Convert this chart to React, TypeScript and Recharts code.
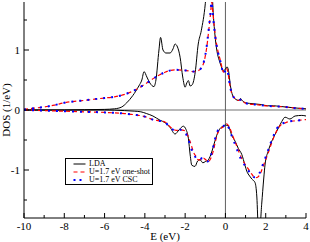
import React from 'react';
import { LineChart, Line, XAxis, YAxis, ReferenceLine, Legend, Label } from 'recharts';

// energy ticks (eV) and DOS ticks (1/eV)
const eTicks = [-10, -9, -8, -7, -6, -5, -4, -3, -2, -1, 0, 1, 2, 3, 4];
const eLabels = [-10, -8, -6, -4, -2, 0, 2, 4];
const dosTicks = [-1.5, -1, -0.5, 0, 0.5, 1, 1.5];
const dosLabels = [-1, 0, 1];

// LDA, spin up
const ldaUpE = [-10, -9, -8, -7, -6, -5.5, -5.15, -4.9, -4.6, -4.3, -4.15, -4.04, -3.9, -3.75, -3.55, -3.45, -3.3, -3.22, -3.1, -2.95, -2.75, -2.6, -2.5, -2.38, -2.25, -2.12, -2.0, -1.92, -1.84, -1.75, -1.65, -1.5, -1.35, -1.2, -1.0, -0.85, -0.72, -0.62, -0.52, -0.42, -0.3, -0.2, -0.1, 0.0, 0.08, 0.15, 0.25, 0.35, 0.5, 0.65, 0.75, 0.85, 1.0, 1.2, 1.5, 1.8, 2.1, 2.4, 2.7, 3.0, 3.3, 3.6, 4.0];
const ldaUpDos = [0.0, 0.0, 0.0, 0.005, 0.01, 0.02, 0.05, 0.12, 0.24, 0.4, 0.5, 0.64, 0.55, 0.45, 0.39, 0.5, 1.0, 1.21, 1.0, 0.95, 0.95, 1.02, 1.1, 1.05, 0.88, 0.55, 0.38, 0.45, 0.49, 0.4, 0.42, 0.63, 1.1, 1.32, 1.77, 2.4, 2.5, 1.7, 1.25, 0.98, 0.82, 0.72, 0.66, 0.68, 0.72, 0.66, 0.4, 0.25, 0.18, 0.16, 0.19, 0.15, 0.12, 0.11, 0.1, 0.09, 0.07, 0.07, 0.06, 0.05, 0.04, 0.03, 0.02];

// LDA, spin down
const ldaDnE = [-10, -8, -6, -5, -4.5, -4.2, -3.91, -3.6, -3.25, -3.0, -2.75, -2.5, -2.3, -2.09, -1.95, -1.84, -1.75, -1.67, -1.51, -1.38, -1.26, -1.12, -1.0, -0.85, -0.68, -0.55, -0.43, -0.27, -0.12, 0.0, 0.15, 0.31, 0.48, 0.64, 0.81, 0.97, 1.06, 1.2, 1.31, 1.47, 1.56, 1.63, 1.7, 1.8, 1.9, 1.97, 2.13, 2.3, 2.46, 2.63, 2.8, 2.96, 3.2, 3.46, 3.79, 4.0];
const ldaDnDos = [0, 0, 0, -0.01, -0.02, -0.03, -0.06, -0.1, -0.17, -0.21, -0.29, -0.4, -0.33, -0.27, -0.33, -0.47, -0.75, -0.92, -0.94, -0.85, -0.83, -0.88, -0.86, -0.83, -0.7, -0.55, -0.42, -0.31, -0.27, -0.25, -0.27, -0.42, -0.52, -0.64, -0.74, -0.92, -1.02, -1.1, -1.15, -1.21, -1.45, -1.95, -2.0, -1.57, -1.15, -0.9, -0.68, -0.52, -0.41, -0.3, -0.19, -0.12, -0.15, -0.1, -0.09, -0.1];

// U=1.7 eV one-shot, spin up
const osUpE = [-10, -9.5, -9, -8.5, -8, -7.5, -7, -6.5, -6, -5.5, -5, -4.5, -4, -3.5, -3, -2.5, -2, -1.6, -1.4, -1.2, -1.05, -0.93, -0.82, -0.74, -0.68, -0.62, -0.55, -0.45, -0.35, -0.27, -0.18, -0.1, -0.03, 0.05, 0.12, 0.18, 0.25, 0.33, 0.45, 0.6, 0.75, 0.82, 0.95, 1.2, 1.5, 2.0, 2.5, 3.0, 3.5, 4.0];
const osUpDos = [0.01, 0.03, 0.05, 0.08, 0.12, 0.145, 0.16, 0.18, 0.2, 0.22, 0.26, 0.33, 0.43, 0.54, 0.63, 0.67, 0.66, 0.64, 0.65, 0.7, 0.82, 1.04, 1.35, 1.6, 1.8, 1.6, 1.38, 1.12, 0.95, 0.85, 0.72, 0.63, 0.66, 0.69, 0.64, 0.5, 0.36, 0.26, 0.2, 0.16, 0.17, 0.17, 0.12, 0.1, 0.09, 0.07, 0.06, 0.05, 0.03, 0.02];

// U=1.7 eV one-shot, spin down
const osDnE = [-10, -9, -8, -7, -6, -5, -4.5, -4, -3.6, -3.3, -3, -2.75, -2.42, -2.2, -2.0, -1.84, -1.7, -1.59, -1.45, -1.35, -1.2, -1.1, -0.98, -0.85, -0.72, -0.6, -0.48, -0.35, -0.2, -0.1, 0.0, 0.06, 0.15, 0.23, 0.35, 0.48, 0.65, 0.81, 0.97, 1.15, 1.31, 1.47, 1.6, 1.72, 1.85, 1.97, 2.1, 2.21, 2.35, 2.46, 2.6, 2.75, 3.0, 3.2, 3.5, 3.7, 4.0];
const osDnDos = [0, -0.01, -0.02, -0.03, -0.04, -0.06, -0.08, -0.11, -0.16, -0.18, -0.2, -0.28, -0.34, -0.33, -0.35, -0.45, -0.58, -0.7, -0.78, -0.83, -0.82, -0.8, -0.83, -0.86, -0.8, -0.68, -0.5, -0.36, -0.3, -0.28, -0.25, -0.23, -0.26, -0.31, -0.42, -0.53, -0.68, -0.81, -0.9, -0.99, -1.07, -1.13, -1.12, -1.07, -0.96, -0.85, -0.74, -0.63, -0.5, -0.41, -0.31, -0.25, -0.21, -0.19, -0.18, -0.17, -0.16];

// U=1.7 eV CSC, spin up
const cscUpE = [-10, -9.5, -9, -8.5, -8, -7.5, -7, -6.5, -6, -5.5, -5, -4.5, -4, -3.5, -3, -2.5, -2, -1.6, -1.4, -1.2, -1.06, -0.94, -0.83, -0.75, -0.69, -0.63, -0.56, -0.46, -0.36, -0.28, -0.19, -0.1, -0.03, 0.05, 0.12, 0.18, 0.25, 0.33, 0.45, 0.6, 0.75, 0.82, 0.95, 1.2, 1.5, 2.0, 2.5, 3.0, 3.5, 4.0];
const cscUpDos = [0.01, 0.03, 0.05, 0.08, 0.12, 0.145, 0.16, 0.18, 0.2, 0.22, 0.26, 0.33, 0.43, 0.54, 0.63, 0.67, 0.66, 0.64, 0.65, 0.7, 0.82, 1.04, 1.35, 1.6, 1.8, 1.6, 1.38, 1.12, 0.95, 0.85, 0.72, 0.6, 0.64, 0.68, 0.63, 0.5, 0.36, 0.26, 0.2, 0.16, 0.17, 0.17, 0.12, 0.1, 0.09, 0.07, 0.06, 0.05, 0.03, 0.02];

// U=1.7 eV CSC, spin down
const cscDnE = [-10, -9, -8, -7, -6, -5, -4.5, -4, -3.6, -3.3, -3, -2.8, -2.47, -2.25, -2.05, -1.89, -1.75, -1.64, -1.5, -1.4, -1.25, -1.14, -1.02, -0.9, -0.77, -0.65, -0.53, -0.4, -0.24, -0.13, -0.03, 0.03, 0.11, 0.18, 0.3, 0.43, 0.6, 0.76, 0.92, 1.1, 1.27, 1.44, 1.57, 1.68, 1.8, 1.92, 2.05, 2.16, 2.3, 2.41, 2.55, 2.7, 2.95, 3.2, 3.5, 3.7, 4.0];
const cscDnDos = [0, -0.01, -0.02, -0.03, -0.04, -0.06, -0.08, -0.11, -0.16, -0.18, -0.2, -0.28, -0.34, -0.33, -0.35, -0.45, -0.58, -0.7, -0.78, -0.83, -0.82, -0.8, -0.83, -0.86, -0.8, -0.68, -0.5, -0.36, -0.3, -0.28, -0.25, -0.23, -0.26, -0.31, -0.42, -0.53, -0.68, -0.81, -0.9, -0.99, -1.07, -1.12, -1.11, -1.06, -0.96, -0.85, -0.74, -0.63, -0.5, -0.41, -0.31, -0.25, -0.21, -0.19, -0.18, -0.17, -0.16];

const toPoints = (es: number[], ds: number[]) => es.map((e, i) => ({ e, dos: ds[i] }));

const ldaUp = toPoints(ldaUpE, ldaUpDos);
const ldaDn = toPoints(ldaDnE, ldaDnDos);
const osUp = toPoints(osUpE, osUpDos);
const osDn = toPoints(osDnE, osDnDos);
const cscUp = toPoints(cscUpE, cscUpDos);
const cscDn = toPoints(cscDnE, cscDnDos);

const FONT = '"Liberation Serif", "DejaVu Serif", serif';

const BottomTick = (props: any) => {
  const { x, y, payload } = props;
  const major = eLabels.includes(payload.value);
  return (
    <g>
      <line x1={x} y1={y} x2={x} y2={y - (major ? 5 : 3)} stroke="#000" />
      {major && (
        <text x={x} y={y + 12} textAnchor="middle" fontSize={11} fontFamily={FONT} fill="#000">
          {payload.value}
        </text>
      )}
    </g>
  );
};

const TopTick = (props: any) => {
  const { x, y, payload } = props;
  const major = eLabels.includes(payload.value);
  return <line x1={x} y1={y} x2={x} y2={y + (major ? 5 : 3)} stroke="#000" />;
};

const LeftTick = (props: any) => {
  const { x, y, payload } = props;
  const major = dosLabels.includes(payload.value);
  return (
    <g>
      <line x1={x} y1={y} x2={x + (major ? 5 : 3)} y2={y} stroke="#000" />
      {major && (
        <text x={x - 4} y={y + 4} textAnchor="end" fontSize={11} fontFamily={FONT} fill="#000">
          {payload.value}
        </text>
      )}
    </g>
  );
};

const RightTick = (props: any) => {
  const { x, y, payload } = props;
  const major = dosLabels.includes(payload.value);
  return <line x1={x} y1={y} x2={x - (major ? 5 : 3)} y2={y} stroke="#000" />;
};

const legendItems = [
  { name: 'LDA', color: '#000000', dash: undefined, width: 1 },
  { name: 'U=1.7 eV one-shot', color: '#ff0000', dash: '4 3', width: 1.2 },
  { name: 'U=1.7 eV CSC', color: '#0000ff', dash: '2 4', width: 2 },
];

const LegendBox = () => (
  <div
    style={{
      boxSizing: 'border-box',
      border: '1px solid #000',
      background: '#fff',
      padding: '1px 0 0 7px',
      fontFamily: FONT,
      fontSize: 8,
      lineHeight: '8.2px',
      width: 88,
      height: 27,
    }}
  >
    {legendItems.map((it) => (
      <div key={it.name} style={{ display: 'flex', alignItems: 'center', whiteSpace: 'nowrap', height: 8.2 }}>
        <svg width={13} height={8} style={{ flex: 'none' }}>
          <line x1={0.5} y1={4} x2={12.5} y2={4} stroke={it.color} strokeWidth={it.width} strokeDasharray={it.dash} />
        </svg>
        <span style={{ marginLeft: 3 }}>{it.name}</span>
      </div>
    ))}
  </div>
);

export default function App() {
  return (
    <div style={{ position: 'absolute', left: 0, top: 0, width: 310, height: 242, background: '#fff' }}>
      <LineChart width={310} height={242} margin={{ top: 2, right: 4, left: 0, bottom: 0 }}>
        <XAxis
          xAxisId={0}
          dataKey="e"
          type="number"
          domain={[-10, 4]}
          ticks={eTicks}
          interval={0}
          height={24}
          tickSize={0}
          tickMargin={0}
          tickLine={false}
          tick={<BottomTick />}
          axisLine={{ stroke: '#000' }}
          allowDataOverflow
        >
          <Label value="E (eV)" position="insideBottom" offset={2} fontSize={11} fontFamily={FONT} fill="#000" />
        </XAxis>
        <XAxis
          xAxisId="top"
          orientation="top"
          dataKey="e"
          type="number"
          domain={[-10, 4]}
          ticks={eTicks}
          interval={0}
          height={0}
          tickSize={0}
          tickMargin={0}
          tickLine={false}
          tick={<TopTick />}
          axisLine={{ stroke: '#000' }}
          allowDataOverflow
        />
        <YAxis
          yAxisId={0}
          type="number"
          domain={[-1.8, 1.8]}
          ticks={dosTicks}
          interval={0}
          width={24}
          tickSize={0}
          tickMargin={0}
          tickLine={false}
          tick={<LeftTick />}
          axisLine={{ stroke: '#000' }}
          allowDataOverflow
        >
          <Label
            value="DOS (1/eV)"
            angle={-90}
            position="insideLeft"
            offset={6}
            fontSize={11}
            fontFamily={FONT}
            fill="#000"
            style={{ textAnchor: 'middle' }}
          />
        </YAxis>
        <YAxis
          yAxisId="right"
          orientation="right"
          type="number"
          domain={[-1.8, 1.8]}
          ticks={dosTicks}
          interval={0}
          width={0}
          tickSize={0}
          tickMargin={0}
          tickLine={false}
          tick={<RightTick />}
          axisLine={{ stroke: '#000' }}
          allowDataOverflow
        />
        <ReferenceLine y={0} stroke="#a0a0a0" strokeWidth={1.5} />
        <ReferenceLine x={0} stroke="#606060" strokeWidth={1} />
        <Line data={ldaUp} dataKey="dos" type="monotone" stroke="#000" strokeWidth={1} dot={false} activeDot={false} isAnimationActive={false} />
        <Line data={ldaDn} dataKey="dos" type="monotone" stroke="#000" strokeWidth={1} dot={false} activeDot={false} isAnimationActive={false} />
        <Line data={osUp} dataKey="dos" type="monotone" stroke="#ff0000" strokeWidth={1.2} strokeDasharray="4 3" dot={false} activeDot={false} isAnimationActive={false} />
        <Line data={osDn} dataKey="dos" type="monotone" stroke="#ff0000" strokeWidth={1.2} strokeDasharray="4 3" dot={false} activeDot={false} isAnimationActive={false} />
        <Line data={cscUp} dataKey="dos" type="monotone" stroke="#0000ff" strokeWidth={2} strokeDasharray="2 6" dot={false} activeDot={false} isAnimationActive={false} />
        <Line data={cscDn} dataKey="dos" type="monotone" stroke="#0000ff" strokeWidth={2} strokeDasharray="2 6" dot={false} activeDot={false} isAnimationActive={false} />
        <Legend
          layout="horizontal"
          verticalAlign="middle"
          align="center"
          content={<LegendBox />}
          wrapperStyle={{ left: 65, top: 158, width: 88 }}
        />
      </LineChart>
    </div>
  );
}
